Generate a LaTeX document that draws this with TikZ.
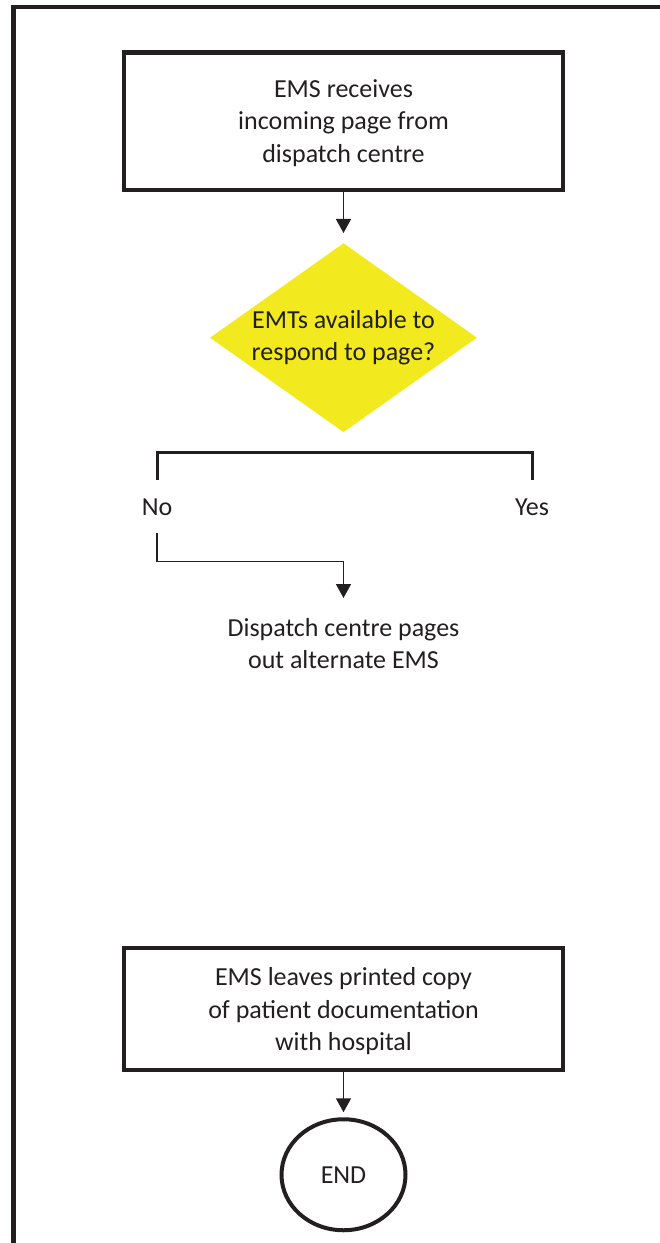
\documentclass[tikz,border=0pt]{standalone}
\usepackage{fontspec}
\setmainfont{Carlito}
\usepackage{xcolor}
\usetikzlibrary{arrows.meta,positioning,shapes.geometric}
\definecolor{ink}{HTML}{231F20}
\definecolor{signal}{RGB}{242,234,30}
\newcommand{\flowfont}{\fontsize{26}{32.5}\selectfont}
\tikzset{
  frame/.style={draw=ink, line width=4.5pt},
  procbox/.style={draw=ink, line width=4.5pt, minimum width=439pt,
                  minimum height=137.5pt, align=center, font=\flowfont,
                  text=ink, inner sep=0pt, text depth=-10pt},
  decision/.style={diamond, aspect=1.413, fill=signal, minimum width=267pt,
                   minimum height=189pt, inner sep=-3pt, align=center,
                   font=\flowfont, text=ink},
  answer/.style={font=\flowfont, text=ink, inner xsep=2pt, inner ysep=18pt},
  plain/.style={font=\flowfont, text=ink, align=center, inner ysep=20pt},
  terminal/.style={ellipse, draw=ink, line width=4pt, minimum width=124pt,
                   minimum height=111pt, inner sep=0pt, font=\flowfont, text=ink},
  flow/.style={-{Triangle[width=15pt, length=14pt]}, draw=ink, line width=1.5pt},
  bracket/.style={draw=ink, line width=3pt},
}
\begin{document}
\begin{tikzpicture}[x=1pt, y=-1pt]
  \useasboundingbox (0,0) rectangle (660,1243);
  \draw[frame] (13.5,1243) -- (13.5,7) -- (660,7);
  \node[procbox] (recv) at (343.5,121)
    {EMS receives\\incoming page from\\dispatch centre};
  \node[decision, below=51pt of recv] (avail)
    {EMTs available to\\respond to page?};
  \node[answer, anchor=base] (no) at (157,515) {No};
  \node[answer, anchor=base] (yes) at (532,515) {Yes};
  \node[plain, anchor=north] (alt) at (343.5,598)
    {Dispatch centre pages\\out alternate EMS};
  \node[procbox, minimum height=122pt] (leave) at (343.5,1009)
    {EMS leaves printed copy\\of patient documentation\\with hospital};
  \node[terminal, below=45pt of leave] (end) {END};
  \draw[flow, shorten >=10pt] (recv) -- (avail);
  \draw[bracket] (no.north) -- ++(0,-28) -| (yes.north);
  \draw[flow] (no.south) -- ++(0,28) -| (alt.north);
  \draw[flow, shorten >=5pt] (leave) -- (end);
\end{tikzpicture}
\end{document}
